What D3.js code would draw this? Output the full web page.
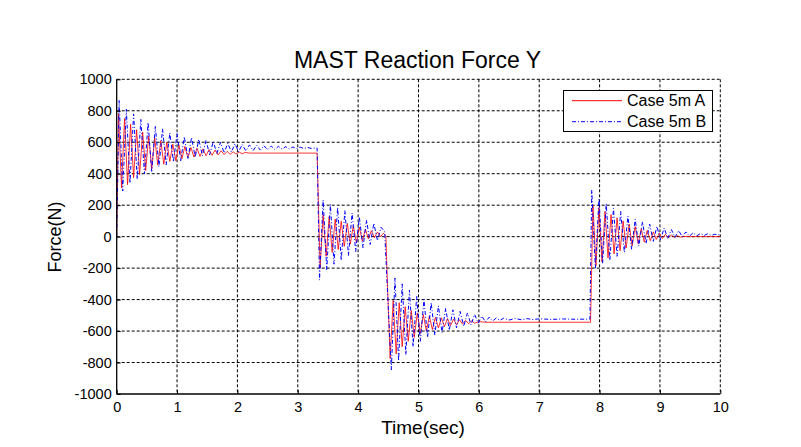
<!DOCTYPE html>
<html>
<head>
<meta charset="utf-8">
<script src="https://cdn.jsdelivr.net/npm/d3@7"></script>
<style>
  html, body { margin: 0; padding: 0; background: #fff; }
  svg { display: block; font-family: "Liberation Sans", Arial, sans-serif; }
</style>
</head>
<body>
<svg id="chart" width="801" height="447"></svg>
<script>
// ---- Data ----
const chartTitle = "MAST Reaction Force Y";
const xLabel = "Time(sec)";
const yLabel = "Force(N)";
const seriesNames = ["Case 5m A", "Case 5m B"];
const xTicks = [0, 1, 2, 3, 4, 5, 6, 7, 8, 9, 10];
const yTicks = [-1000, -800, -600, -400, -200, 0, 200, 400, 600, 800, 1000];

// Case 5m A (red, solid)
const timeA = [
  0, 0.03, 0.08, 0.13, 0.18, 0.23, 0.28, 0.33, 0.38, 0.43, 0.48, 0.53, 0.58, 0.63, 0.68, 0.73, 0.78, 0.83, 0.88, 0.93,
  0.98, 1.03, 1.08, 1.13, 1.18, 1.23, 1.28, 1.33, 1.38, 1.43, 1.48, 1.53, 1.58, 1.63, 1.68, 1.73, 1.78, 1.83, 1.88, 1.93,
  1.98, 2.03, 2.08, 2.13, 2.2, 3.32,
  3.37, 3.42, 3.47, 3.52, 3.57, 3.62, 3.67, 3.72, 3.77, 3.82, 3.87, 3.92, 3.97, 4.02, 4.07, 4.12, 4.17, 4.22, 4.27, 4.32,
  4.37, 4.42, 4.46,
  4.49, 4.53, 4.58, 4.63, 4.68, 4.73, 4.78, 4.83, 4.88, 4.93, 4.98, 5.03, 5.08, 5.13, 5.18, 5.23, 5.28, 5.33, 5.38, 5.43,
  5.48, 5.53, 5.58, 5.63, 5.68, 5.73, 5.78, 5.83, 5.88, 5.93, 6.0, 6.1, 7.85,
  7.89, 7.94, 7.99, 8.04, 8.09, 8.14, 8.19, 8.24, 8.29, 8.34, 8.39, 8.44, 8.49, 8.54, 8.59, 8.64, 8.69, 8.74, 8.79, 8.84,
  8.89, 8.94, 8.99, 9.04, 9.09, 9.14, 9.19, 9.24, 9.29, 9.34, 9.4, 9.5, 10
];
const forceA = [
  0, 782, 310, 750, 330, 715, 375, 680, 395, 665, 420, 640, 430, 630, 455, 610, 460, 600, 478, 588,
  482, 584, 495, 574, 500, 566, 506, 562, 510, 558, 514, 553, 517, 550, 519, 546, 521, 542, 523, 539,
  525, 537, 527, 535, 531, 531,
  -200, 140, -125, 128, -100, 112, -82, 98, -62, 84, -48, 70, -38, 60, -28, 48, -14, 38, -6, 30,
  0, 22, 5,
  -350, -775, -405, -745, -420, -700, -445, -665, -470, -640, -485, -615, -495, -600, -505, -590, -512, -580, -516, -572,
  -520, -566, -524, -560, -528, -556, -532, -553, -536, -550, -540, -544, -544,
  200, -185, 185, -160, 160, -135, 140, -110, 120, -90, 100, -72, 80, -58, 64, -45, 50, -35, 40, -26,
  30, -18, 22, -12, 15, -8, 10, -5, 6, -3, 2, 0, 0
];

// Case 5m B (blue, dash-dot)
const timeB = [
  0, 0.04, 0.10, 0.16, 0.22, 0.28, 0.34, 0.40, 0.46, 0.52, 0.58, 0.64, 0.70, 0.76, 0.82, 0.88, 0.94, 1.00, 1.06, 1.12,
  1.18, 1.24, 1.30, 1.36, 1.42, 1.48, 1.54, 1.60, 1.66, 1.72, 1.78, 1.84, 1.90, 1.96, 2.02, 2.08, 2.14, 2.20, 2.26, 2.32,
  2.38, 2.44, 2.50, 2.56, 2.62, 2.68, 2.74, 2.80, 2.86, 2.92, 2.98, 3.04, 3.10, 3.16, 3.22, 3.32,
  3.36, 3.42, 3.48, 3.54, 3.60, 3.66, 3.72, 3.78, 3.84, 3.90, 3.96, 4.02, 4.08, 4.14, 4.20, 4.26, 4.32, 4.38, 4.44,
  4.48, 4.55, 4.61, 4.67, 4.73, 4.79, 4.85, 4.91, 4.97, 5.03, 5.09, 5.15, 5.21, 5.27, 5.33, 5.39, 5.45, 5.51, 5.57, 5.63,
  5.69, 5.75, 5.81, 5.87, 5.93, 5.99, 6.05, 6.11, 6.17, 6.23, 6.29, 6.35, 6.41, 6.5, 6.6, 6.7, 6.8, 6.9, 7.0, 7.2,
  7.4, 7.6, 7.84,
  7.87, 7.93, 7.99, 8.05, 8.11, 8.17, 8.23, 8.29, 8.35, 8.41, 8.47, 8.53, 8.59, 8.65, 8.71, 8.77, 8.83, 8.89, 8.95, 9.01,
  9.07, 9.13, 9.19, 9.25, 9.31, 9.37, 9.43, 9.49, 9.55, 9.61, 9.67, 9.73, 9.79, 9.85, 9.91, 10
];
const forceB = [
  0, 865, 290, 810, 340, 780, 365, 745, 400, 725, 415, 700, 445, 685, 455, 660, 475, 655, 482, 635,
  498, 630, 505, 618, 515, 612, 520, 604, 528, 600, 532, 594, 538, 590, 540, 586, 545, 583, 547, 580,
  550, 578, 552, 576, 554, 574, 556, 572, 557, 570, 559, 569, 560, 567, 561, 564,
  -276, 233, -210, 205, -175, 185, -150, 165, -120, 150, -95, 125, -70, 105, -50, 85, -25, 60, 30,
  -300, -847, -263, -790, -300, -750, -340, -700, -380, -665, -400, -640, -420, -625, -440, -610, -455, -595, -465, -580,
  -475, -570, -485, -560, -495, -550, -505, -542, -512, -536, -516, -532, -518, -530, -520, -528, -521, -527, -522, -526,
  -523, -525, -524,
  296, -200, 240, -170, 210, -150, 180, -125, 160, -100, 130, -80, 110, -60, 95, -45, 80, -30, 65, -20,
  55, -12, 45, -5, 38, 0, 30, 3, 25, 5, 20, 7, 18, 8, 15, 10
];

// ---- Layout ----
const svg = d3.select("#chart");
const plot = { left: 116.7, right: 720.3, top: 79.3, bottom: 394 };

const x = d3.scaleLinear().domain([0, 10]).range([plot.left, plot.right]);
const y = d3.scaleLinear().domain([-1000, 1000]).range([plot.bottom, plot.top]);

svg.append("rect").attr("width", 801).attr("height", 447).attr("fill", "#fff");

// grid
const grid = svg.append("g").attr("class", "grid");
grid.selectAll("line.v").data(xTicks.filter(d => d !== 0)).enter().append("line")
  .attr("x1", d => x(d)).attr("x2", d => x(d))
  .attr("y1", plot.top).attr("y2", plot.bottom)
  .attr("stroke", "#000").attr("stroke-width", 1).attr("stroke-dasharray", "3,2");
grid.selectAll("line.h").data(yTicks.filter(d => d !== -1000)).enter().append("line")
  .attr("x1", plot.left).attr("x2", plot.right)
  .attr("y1", d => y(d)).attr("y2", d => y(d))
  .attr("stroke", "#000").attr("stroke-width", 1).attr("stroke-dasharray", "3,2");

// series
const dataA = timeA.map((t, i) => [t, forceA[i]]);
const dataB = timeB.map((t, i) => [t, forceB[i]]);
const line = d3.line().x(d => x(d[0])).y(d => y(d[1]));

svg.append("path").datum(dataA)
  .attr("d", line).attr("fill", "none")
  .attr("stroke", "#ff0000").attr("stroke-width", 1).attr("stroke-opacity", 0.8);
svg.append("path").datum(dataB)
  .attr("d", line).attr("fill", "none")
  .attr("stroke", "#0000ff").attr("stroke-width", 1)
  .attr("stroke-dasharray", "4,2,1,2");

// axes
const fmt = d => String(d);
const yAxis = d3.axisLeft(y).tickValues(yTicks).tickFormat(fmt).tickSize(-4).tickPadding(5);
const xAxis = d3.axisBottom(x).tickValues(xTicks).tickFormat(fmt).tickSize(-4).tickPadding(8);

const gy = svg.append("g").attr("transform", `translate(${plot.left},0)`).call(yAxis);
const gx = svg.append("g").attr("transform", `translate(0,${plot.bottom})`).call(xAxis);
[gx, gy].forEach(g => {
  g.select(".domain").attr("stroke", "#000").attr("stroke-width", 1.3);
  g.selectAll(".tick line").attr("stroke", "#000");
  g.selectAll("text").attr("fill", "#000")
    .style("font-family", '"Liberation Sans", Arial, sans-serif').style("font-size", "14.5px");
});
gy.select(".domain").attr("d", `M0,${plot.bottom}V${plot.top}`);
gx.select(".domain").attr("d", `M${plot.left},0H${plot.right}`);

// titles
svg.append("text").attr("x", 417.5).attr("y", 68).attr("text-anchor", "middle")
  .style("font-size", "23px").attr("fill", "#000").text(chartTitle);
svg.append("text").attr("x", 423).attr("y", 434).attr("text-anchor", "middle")
  .style("font-size", "19px").attr("fill", "#000").text(xLabel);
svg.append("text").attr("transform", "translate(61,237) rotate(-90)").attr("text-anchor", "middle")
  .style("font-size", "18px").attr("fill", "#000").text(yLabel);

// legend
const lg = svg.append("g");
lg.append("rect").attr("x", 563.5).attr("y", 90.5).attr("width", 149).attr("height", 41)
  .attr("fill", "#fff").attr("stroke", "#000").attr("stroke-width", 1);
const legendItems = [
  { name: seriesNames[0], color: "#ff0000", dash: null },
  { name: seriesNames[1], color: "#0000ff", dash: "4,2,1,2" }
];
legendItems.forEach((it, i) => {
  const yy = 100.7 + i * 21;
  lg.append("line").attr("x1", 572).attr("x2", 622).attr("y1", yy).attr("y2", yy)
    .attr("stroke", it.color).attr("stroke-width", 1)
    .attr("stroke-dasharray", it.dash);
  lg.append("text").attr("x", 627).attr("y", yy + 5.5).style("font-size", "16px")
    .attr("fill", "#000").text(it.name);
});
</script>
</body>
</html>
